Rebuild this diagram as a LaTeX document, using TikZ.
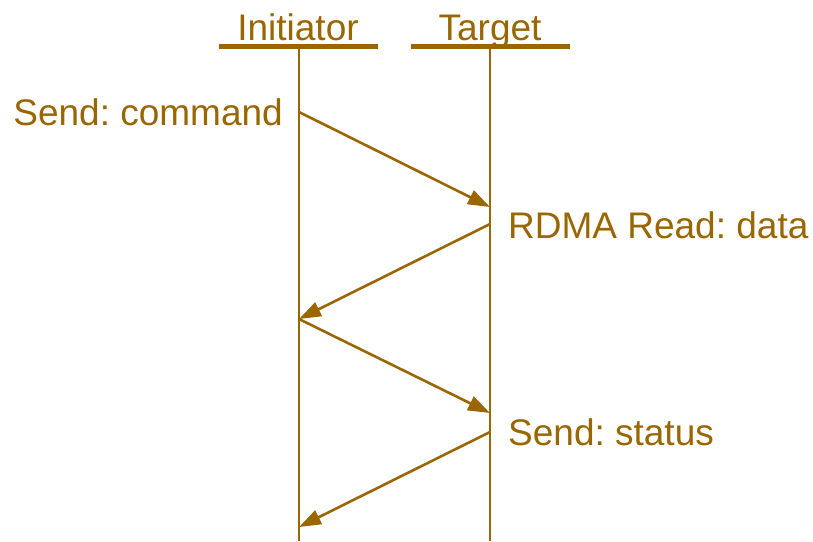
\documentclass[tikz,border=0pt]{standalone}
\usepackage{fontspec}
\setmainfont{Liberation Sans}
\usetikzlibrary{arrows.meta}
\definecolor{msgbrown}{HTML}{996600}
\tikzset{>={Triangle[length=22pt,width=15pt]}}

\begin{document}
\frenchspacing
\begin{tikzpicture}[x=1pt, y=-1pt,
    every node/.style={text=msgbrown, inner sep=0pt, font=\fontsize{37}{42}\selectfont},
    head/.style={msgbrown, line width=5pt},
    life/.style={msgbrown, line width=2.3pt},
    msg/.style={->, msgbrown, line width=2.6pt}]
\useasboundingbox (0,0) rectangle (813,541);
% heads
\node[anchor=base] (ini) at (298,40) {Initiator};
\node[anchor=base] (tgt) at (490,40) {Target};
\draw[head] (219,46) -- (378,46);
\draw[head] (411,46) -- (570,46);
% lifelines
\coordinate (iTop) at (299,46);
\coordinate (iBot) at (299,541);
\coordinate (tTop) at (490,46);
\coordinate (tBot) at (490,541);
\draw[life] (iTop) -- (iBot);
\draw[life] (tTop) -- (tBot);
% message points
\coordinate (i1) at (299,112);
\coordinate (t1) at (490,207);
\coordinate (t2) at (490,224);
\coordinate (i2) at (299,319);
\coordinate (t3) at (490,413);
\coordinate (t4) at (490,432);
\coordinate (i3) at (299,527);
\draw[msg] (i1) -- (t1);
\draw[msg] (t2) -- (i2);
\draw[msg] (i2) -- (t3);
\draw[msg] (t4) -- (i3);
% labels
\node[anchor=base east] (cmd) at (283,125) {Send: command};
\node[anchor=base west] (rdma) at (508,238) {RDMA Read: data};
\node[anchor=base west] (stat) at (508,445) {Send: status};
\end{tikzpicture}
\end{document}
